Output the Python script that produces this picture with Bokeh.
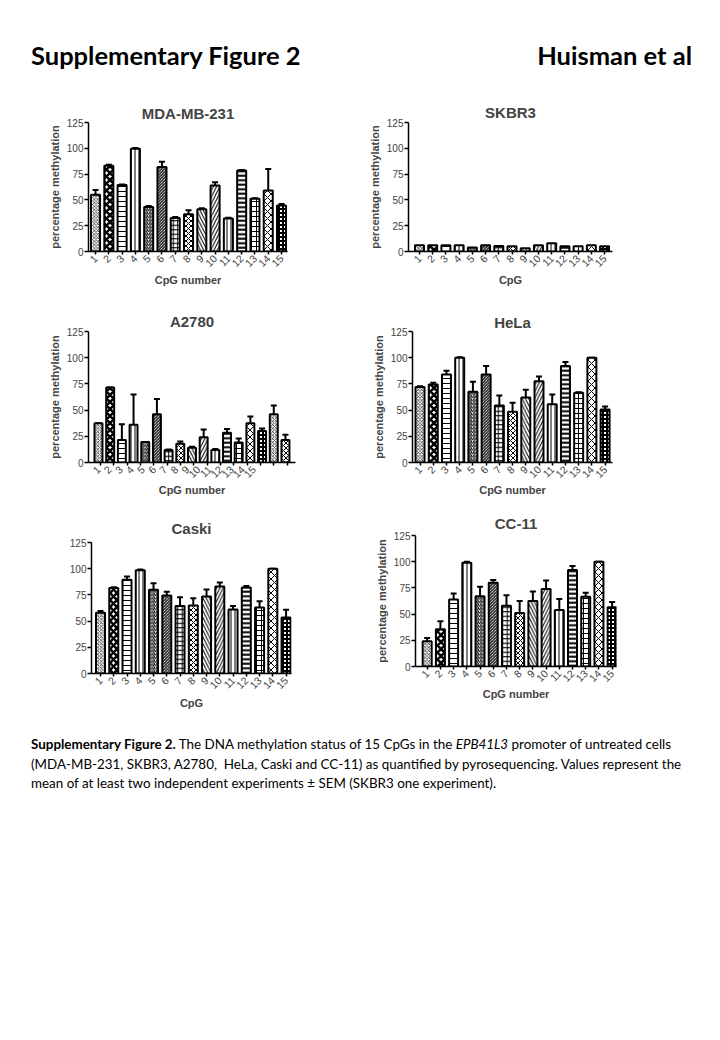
import math
from bokeh.plotting import figure
from bokeh.models import (ColumnDataSource, Whisker, TeeHead, FixedTicker, Div,
                          Range1d, CustomJSTickFormatter, Spacer)
from bokeh.layouts import column, row
from bokeh.embed import file_html
from bokeh.resources import INLINE

# ---------------- data ----------------
cpg_labels = [str(i) for i in range(1, 16)]
y_ticks = [0, 25, 50, 75, 100, 125]

mda_vals = [55, 83, 64.5, 99.5, 43, 82, 32.5, 36, 41, 64, 32, 78.5, 51, 59, 44.5]
mda_errs = [4.5, 1, 0.5, 0.8, 1, 5, 1, 4, 1, 3, 0.8, 0.5, 0.5, 21, 1.5]

skbr3_vals = [6, 6, 6, 6, 3.8, 6, 5.4, 5, 3.1, 6, 7.9, 5, 5, 6, 5]

a2780_vals = [37.5, 71.5, 21.5, 36, 19.5, 46, 12, 18, 14, 24, 12, 28.5, 19, 37.5, 30, 46, 21.5]
a2780_errs = [0, 0, 15, 29, 0, 14.5, 0.5, 2, 1, 7.5, 1, 3.5, 4, 6.5, 2.5, 8.5, 5]

hela_vals = [72, 74.5, 84, 100, 67.5, 84, 54.5, 48.5, 62, 77.5, 55.5, 92, 66.5, 100, 50.5]
hela_errs = [0.8, 1.5, 3.5, 0.5, 9.5, 8, 9.5, 8.5, 7.5, 4.5, 9.5, 3.8, 0.5, 0, 3]

caski_vals = [58, 81.5, 89.5, 98.5, 80, 74.5, 64.5, 65, 73.5, 83, 61, 82, 63, 100, 53.5]
caski_errs = [1.6, 0.8, 3, 0.8, 6, 3.5, 8.3, 6.7, 6.7, 3.8, 3.5, 1.6, 6, 0, 7.3]

cc11_vals = [24, 35.5, 64, 99, 67, 80, 58, 51, 62.5, 74, 54, 92, 66.5, 100, 56.5]
cc11_errs = [3.2, 7.6, 5.7, 1, 9, 2.5, 10, 11.5, 9, 8, 10.5, 4, 3.8, 0, 5]

# ---------------- styles ----------------
pat_cycle = ["x", "x", "-", "|", "/", "\\", "+", "x", "\\", "/", "|", "-", "+", "x", "+"]
scale_cycle = [3.5, 7, 5, 4, 3.5, 3, 4.5, 5, 6.5, 6.5, 4, 4.5, 5, 7, 4]
weight_cycle = [0.7, 2.5, 1, 1, 1, 1, 1, 1, 1, 1, 1, 2, 1, 1, 2]
a2780_style_idx = [0, 1, 2, 3, 4, 5, 6, 7, 8, 9, 10, 11, 12, 13, 14, 0, 7]

FONT = "Liberation Sans"


def panel(name, vals, errs, xlabel, ylabel, geom, xr, toff, tstand, xstand,
          style_idx, label_x=None, tick_x=None):
    W, H, bl, br, bt, bb = geom
    p = figure(width=W, height=H, x_range=Range1d(*xr), y_range=Range1d(0, 125),
               output_backend="svg", toolbar_location=None, title=name,
               min_border_left=bl, min_border_right=br,
               min_border_top=bt, min_border_bottom=bb)
    p.outline_line_color = None
    p.grid.visible = False
    p.background_fill_color = "white"
    p.border_fill_color = "white"
    x = list(range(1, len(vals) + 1))
    src = ColumnDataSource(dict(
        x=x, top=vals,
        upper=[v + e for v, e in zip(vals, errs)],
        pat=[pat_cycle[i] for i in style_idx],
        scale=[scale_cycle[i] for i in style_idx],
        weight=[weight_cycle[i] for i in style_idx],
    ))
    p.vbar(x="x", top="top", width=0.68, source=src, fill_color="white",
           line_color="black", line_width=2, hatch_pattern="pat",
           hatch_scale="scale", hatch_weight="weight", hatch_color="black")
    if any(e > 0 for e in errs):
        w = Whisker(source=src, base="x", upper="upper", lower="top",
                    lower_head=None,
                    upper_head=TeeHead(size=6, line_width=2, line_color="black"),
                    line_width=2, line_color="black")
        p.add_layout(w)

    p.title.text_font = FONT
    p.title.text_font_size = "15px"
    p.title.text_font_style = "bold"
    p.title.align = "center"
    p.title.offset = toff
    p.title.standoff = tstand

    ya = p.yaxis[0]
    ya.ticker = FixedTicker(ticks=y_ticks)
    ya.axis_line_width = 1.5
    ya.major_tick_line_width = 1.5
    ya.major_tick_out = 4
    ya.major_tick_in = 0
    ya.minor_tick_line_color = None
    ya.major_label_standoff = 1
    ya.major_label_text_font = FONT
    ya.major_label_text_font_size = "10px"
    if ylabel:
        ya.axis_label = ylabel
        ya.axis_label_text_font = FONT
        ya.axis_label_text_font_size = "11px"
        ya.axis_label_text_font_style = "bold"
        ya.axis_label_standoff = 3

    xa = p.xaxis[0]
    if label_x is None:
        xa.ticker = FixedTicker(ticks=x[:len(cpg_labels)])
        xa.major_tick_out = 3
        xa.minor_tick_line_color = None
    else:
        xa.ticker = FixedTicker(ticks=label_x, minor_ticks=tick_x)
        xa.major_tick_out = 0
        xa.minor_tick_out = 3
        xa.minor_tick_in = 0
        xa.minor_tick_line_color = "black"
        xa.minor_tick_line_width = 1.5
    xa.formatter = CustomJSTickFormatter(args=dict(labels=cpg_labels),
                                         code="return labels[index] ?? ''")
    xa.major_tick_in = 0
    xa.major_tick_line_width = 1.5
    xa.axis_line_width = 1.5
    xa.major_label_orientation = math.pi / 4
    xa.major_label_standoff = 2
    xa.major_label_text_font = FONT
    xa.major_label_text_font_size = "10.5px"
    xa.axis_label = xlabel
    xa.axis_label_text_font = FONT
    xa.axis_label_text_font_size = "11px"
    xa.axis_label_text_font_style = "bold"
    xa.axis_label_standoff = xstand
    return p


std_idx = list(range(15))
ylab = "percentage methylation"

p1 = panel("MDA-MB-231", mda_vals, mda_errs, "CpG number", ylab,
           (352, 222, 80, 73, 41, 49), (0.47, 15.45), -2, 1, 1, std_idx)
p2 = panel("SKBR3", skbr3_vals, [0] * 15, "CpG", ylab,
           (352, 222, 48, 100, 44, 46), (0.17, 15.6), -7, 3, 1, std_idx)

a_label_x = [1 + 0.95 * j for j in range(15)]
a_tick_x = [1.17 + 1.142 * k for k in range(15)]
p3 = panel("A2780", a2780_vals, a2780_errs, "CpG number", ylab,
           (352, 205, 80, 65, 31, 43), (0.145, 17.86), -29, 3, 0,
           a2780_style_idx, label_x=a_label_x, tick_x=a_tick_x)
p4 = panel("HeLa", hela_vals, hela_errs, "CpG number", ylab,
           (352, 205, 52, 100, 30, 43), (0.43, 15.56), -17, 1, 0, std_idx)
p5 = panel("Caski", caski_vals, caski_errs, "CpG", None,
           (352, 208, 83, 69, 30, 47), (0.32, 15.41), -31, 11, 2, std_idx)
p6 = panel("CC-11", cc11_vals, cc11_errs, "CpG number", ylab,
           (352, 215, 55, 96, 30, 54), (0.115, 15.33), 27, 7, 0, std_idx)

head = Div(width=704, height=70, margin=0, text=(
    '<div style="position:relative;width:704px;height:70px;font-family:Lato;'
    'font-weight:bold;font-size:25.5px;color:black;">'
    '<span style="position:absolute;left:23px;top:29px;white-space:nowrap;">Supplementary Figure 2</span>'
    '<span style="position:absolute;right:20px;top:29px;white-space:nowrap;">Huisman et al</span>'
    '</div>'))

caption = Div(width=704, height=100, margin=0, text=(
    '<div style="font-family:Lato;font-size:13.4px;line-height:19.5px;color:black;'
    'padding-left:23px;padding-top:15px;white-space:nowrap;">'
    '<b>Supplementary Figure 2.</b> The DNA methylation status of 15 CpGs in the '
    '<i>EPB41L3</i> promoter of untreated cells<br>'
    '(MDA-MB-231, SKBR3, A2780,&nbsp; HeLa, Caski and CC-11) as quantified by pyrosequencing. '
    'Values represent the<br>'
    'mean of at least two independent experiments &plusmn; SEM (SKBR3 one experiment).'
    '</div>'))

layout = column(head, row(p1, p2), row(p3, p4),
                row(column(Spacer(width=352, height=7), p5), p6),
                caption, margin=(8, 8, 8, 8))
open("out.html", "w").write(file_html(layout, INLINE))
